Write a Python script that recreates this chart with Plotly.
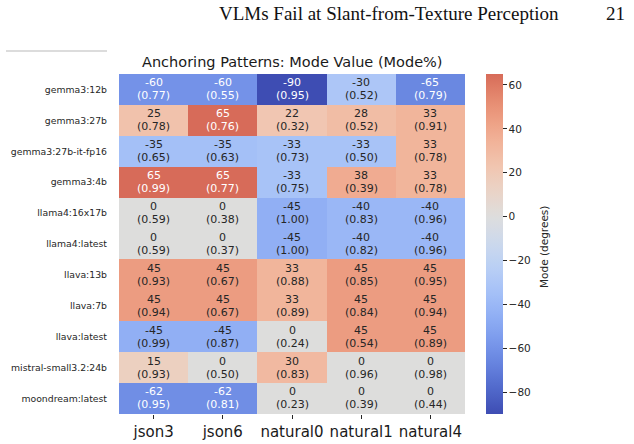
import numpy as np
import plotly.graph_objects as go

models = ["gemma3:12b", "gemma3:27b", "gemma3:27b-it-fp16", "gemma3:4b",
          "llama4:16x17b", "llama4:latest", "llava:13b", "llava:7b",
          "llava:latest", "mistral-small3.2:24b", "moondream:latest"]
prompts = ["json3", "json6", "natural0", "natural1", "natural4"]

mode_values = [
    [-60, -60, -90, -30, -65],
    [25, 65, 22, 28, 33],
    [-35, -35, -33, -33, 33],
    [65, 65, -33, 38, 33],
    [0, 0, -45, -40, -40],
    [0, 0, -45, -40, -40],
    [45, 45, 33, 45, 45],
    [45, 45, 33, 45, 45],
    [-45, -45, 0, 45, 45],
    [15, 0, 30, 0, 0],
    [-62, -62, 0, 0, 0],
]
mode_pct = [
    [0.77, 0.55, 0.95, 0.52, 0.79],
    [0.78, 0.76, 0.32, 0.52, 0.91],
    [0.65, 0.63, 0.73, 0.50, 0.78],
    [0.99, 0.77, 0.75, 0.39, 0.78],
    [0.59, 0.38, 1.00, 0.83, 0.96],
    [0.59, 0.37, 1.00, 0.82, 0.96],
    [0.93, 0.67, 0.88, 0.85, 0.95],
    [0.94, 0.67, 0.89, 0.84, 0.94],
    [0.99, 0.87, 0.24, 0.54, 0.89],
    [0.93, 0.50, 0.83, 0.96, 0.98],
    [0.95, 0.81, 0.23, 0.39, 0.44],
]
cbar_ticks = [-80, -60, -40, -20, 0, 20, 40, 60]

# matplotlib coolwarm (Moreland) table
cw = np.array([
    [59, 76, 192], [68, 90, 204], [77, 104, 215], [87, 117, 225], [98, 130, 234],
    [108, 142, 241], [119, 154, 247], [130, 165, 251], [141, 176, 254], [152, 185, 255],
    [163, 194, 255], [174, 201, 253], [184, 208, 249], [194, 213, 244], [204, 217, 238],
    [213, 219, 230], [221, 221, 221], [229, 216, 209], [236, 211, 197], [241, 204, 185],
    [245, 196, 173], [247, 187, 160], [247, 177, 148], [247, 166, 135], [244, 154, 123],
    [241, 141, 111], [236, 127, 99], [229, 112, 88], [222, 96, 77], [213, 80, 66],
    [203, 62, 56], [192, 40, 47], [180, 4, 38]], dtype=float)
cw_pos = np.linspace(0, 1, len(cw))

def coolwarm(p):
    return np.array([np.interp(p, cw_pos, cw[:, k]) for k in range(3)])

def muted(c, k=0.88):
    g = 0.3 * c[0] + 0.59 * c[1] + 0.11 * c[2]
    return c * k + g * (1 - k)

zmin, zmax, center = -90.0, 65.0, 0.0
vr = max(zmax - center, center - zmin)
cmin_ = (zmin - (center - vr)) / (2 * vr)
cmax_ = (zmax - (center - vr)) / (2 * vr)

colorscale = []
for t in np.linspace(0, 1, 41):
    c = muted(coolwarm(cmin_ + t * (cmax_ - cmin_)))
    colorscale.append([float(t), "rgb(%d,%d,%d)" % tuple(np.round(c))])

def color_of(v):
    t = (v - zmin) / (zmax - zmin)
    return coolwarm(cmin_ + t * (cmax_ - cmin_)) / 255.0

def lum(c):
    lin = np.where(c <= 0.03928, c / 12.92, ((c + 0.055) / 1.055) ** 2.4)
    return 0.2126 * lin[0] + 0.7152 * lin[1] + 0.0722 * lin[2]

W, H = 634, 444
hx0, hx1, hy0, hy1 = 119, 465, 74, 414

fig = go.Figure()
fig.add_trace(go.Heatmap(
    z=mode_values, x=prompts, y=models,
    zmin=zmin, zmax=zmax, colorscale=colorscale,
    hoverinfo="skip",
    colorbar=dict(
        x=486 / W, xanchor="left", thickness=17, thicknessmode="pixels",
        len=hy1 - hy0, lenmode="pixels", y=1 - (hy0 + hy1) / 2 / H, yanchor="middle",
        outlinewidth=0, ticks="outside", ticklen=4, tickwidth=1, tickcolor="#262626",
        tickvals=cbar_ticks,
        ticktext=[("\u2212%d" % -v) if v < 0 else str(v) for v in cbar_ticks],
        tickfont=dict(family="DejaVu Sans", size=10.5, color="#262626"),
        xpad=0, ypad=0,
    ),
))

annotations = []
for i, m in enumerate(models):
    for j, p in enumerate(prompts):
        v = mode_values[i][j]
        tc = "#262626" if lum(color_of(v)) > 0.408 else "#ffffff"
        f = dict(family="DejaVu Sans", size=11, color=tc)
        annotations.append(dict(x=p, y=m, xref="x", yref="y", text="%d" % v,
                                showarrow=False, font=f, yshift=6.6))
        annotations.append(dict(x=p, y=m, xref="x", yref="y", text="(%.2f)" % mode_pct[i][j],
                                showarrow=False, font=f, yshift=-6.4))

annotations.append(dict(x=292 / W, y=1 - 62 / H, xref="paper", yref="paper",
                        text="Anchoring Patterns: Mode Value (Mode%)", showarrow=False,
                        font=dict(family="DejaVu Sans", size=14.5, color="#1a1a1a"),
                        xanchor="center", yanchor="middle"))
annotations.append(dict(x=544 / W, y=1 - 247 / H, xref="paper", yref="paper",
                        text="Mode (degrees)", showarrow=False, textangle=-90,
                        font=dict(family="DejaVu Sans", size=10.5, color="#262626"),
                        xanchor="center", yanchor="middle"))
annotations.append(dict(x=561 / W, y=1 - 13 / H, xref="paper", yref="paper",
                        text="VLMs Fail at Slant-from-Texture Perception", showarrow=False,
                        font=dict(family="Liberation Serif", size=19, color="#111111"),
                        xanchor="right", yanchor="middle"))
annotations.append(dict(x=627 / W, y=1 - 13 / H, xref="paper", yref="paper",
                        text="21", showarrow=False,
                        font=dict(family="Liberation Serif", size=19, color="#111111"),
                        xanchor="right", yanchor="middle"))

fig.update_layout(
    width=W, height=H, margin=dict(l=0, r=0, t=0, b=0),
    paper_bgcolor="white", plot_bgcolor="white",
    annotations=annotations,
    shapes=[dict(type="line", xref="paper", yref="paper",
                 x0=6 / W, x1=107 / W, y0=1 - 51 / H, y1=1 - 51 / H,
                 line=dict(color="#dcdcdc", width=2))],
    xaxis=dict(domain=[hx0 / W, hx1 / W], ticks="outside", ticklen=3.5, tickwidth=1,
               tickcolor="#262626", showgrid=False, zeroline=False, showline=False,
               tickfont=dict(family="DejaVu Sans", size=15, color="#1a1a1a")),
    yaxis=dict(domain=[1 - hy1 / H, 1 - hy0 / H], autorange="reversed", ticks="",
               showgrid=False, zeroline=False, showline=False, ticklabelstandoff=11,
               tickfont=dict(family="DejaVu Sans", size=9.3, color="#262626")),
)

fig.write_html("out.html")
